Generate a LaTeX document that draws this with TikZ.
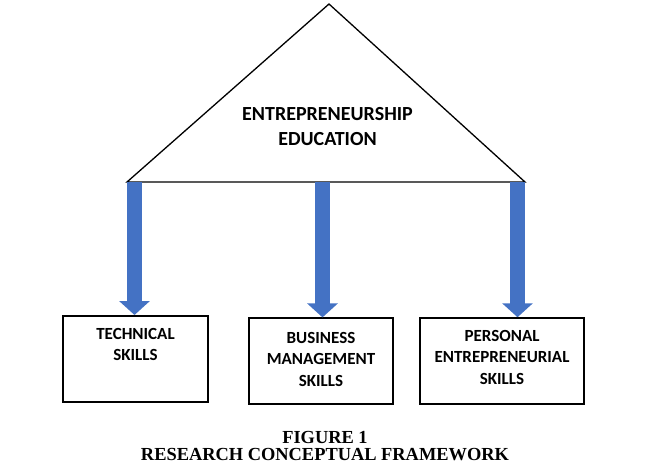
\documentclass[tikz,border=0pt]{standalone}
\usepackage{fontspec}
\setmainfont{Carlito}
\newfontfamily\capfont{Liberation Serif}
\usetikzlibrary{arrows.meta}
\definecolor{arrowblue}{RGB}{68,114,196}
\tikzset{
  skillbox/.style={draw=black, rectangle, inner sep=0pt},
  boxtext/.style={anchor=north, align=center, inner sep=0pt, font=\fontsize{17}{21.5}\selectfont\bfseries},
  bigarrow/.style={draw=arrowblue, line width=15pt, -{Triangle[width=30pt,length=14pt]}},
}
\begin{document}
\begin{tikzpicture}[x=1pt,y=-1pt]
\useasboundingbox (0,0) rectangle (657,474);
% triangle
\coordinate (apex) at (329,4);
\coordinate (bl) at (127,182);
\coordinate (br) at (525,182);
\draw[line width=1.3pt, line join=miter] (apex) -- (br) -- (bl) -- cycle;
\node[anchor=north, align=center, inner sep=0pt, font=\fontsize{20}{25}\selectfont\bfseries] (edu) at (327.5,107) {ENTREPRENEURSHIP\\EDUCATION};
% boxes
\node[skillbox, line width=2pt, minimum width=145pt, minimum height=86pt] (tech) at (135.5,359) {};
\node[skillbox, line width=1.2pt, minimum width=144pt, minimum height=86pt] (bus) at (321,361) {};
\node[skillbox, line width=1.5pt, minimum width=164pt, minimum height=86pt] (pers) at (502,361) {};
\node[boxtext] (techtxt) at (135.5,328) {TECHNICAL\\SKILLS};
\node[boxtext] (bustxt) at (321,332) {BUSINESS\\MANAGEMENT\\SKILLS};
\node[boxtext] (perstxt) at (502,330) {PERSONAL\\ENTREPRENEURIAL\\SKILLS};
% arrows
\coordinate (a1) at (134.5,182);
\coordinate (a2) at (322.5,182);
\coordinate (a3) at (517.5,182);
\draw[bigarrow] (a1) -- (a1 |- tech.north);
\draw[bigarrow] (a2) -- (a2 |- bus.north);
\draw[bigarrow] (a3) -- (a3 |- pers.north);
% caption
\node[anchor=north, align=center, inner sep=0pt, font=\capfont\fontsize{18.4}{17}\selectfont\bfseries] (cap) at (325,431) {FIGURE 1\\RESEARCH CONCEPTUAL FRAMEWORK};
\end{tikzpicture}
\end{document}
